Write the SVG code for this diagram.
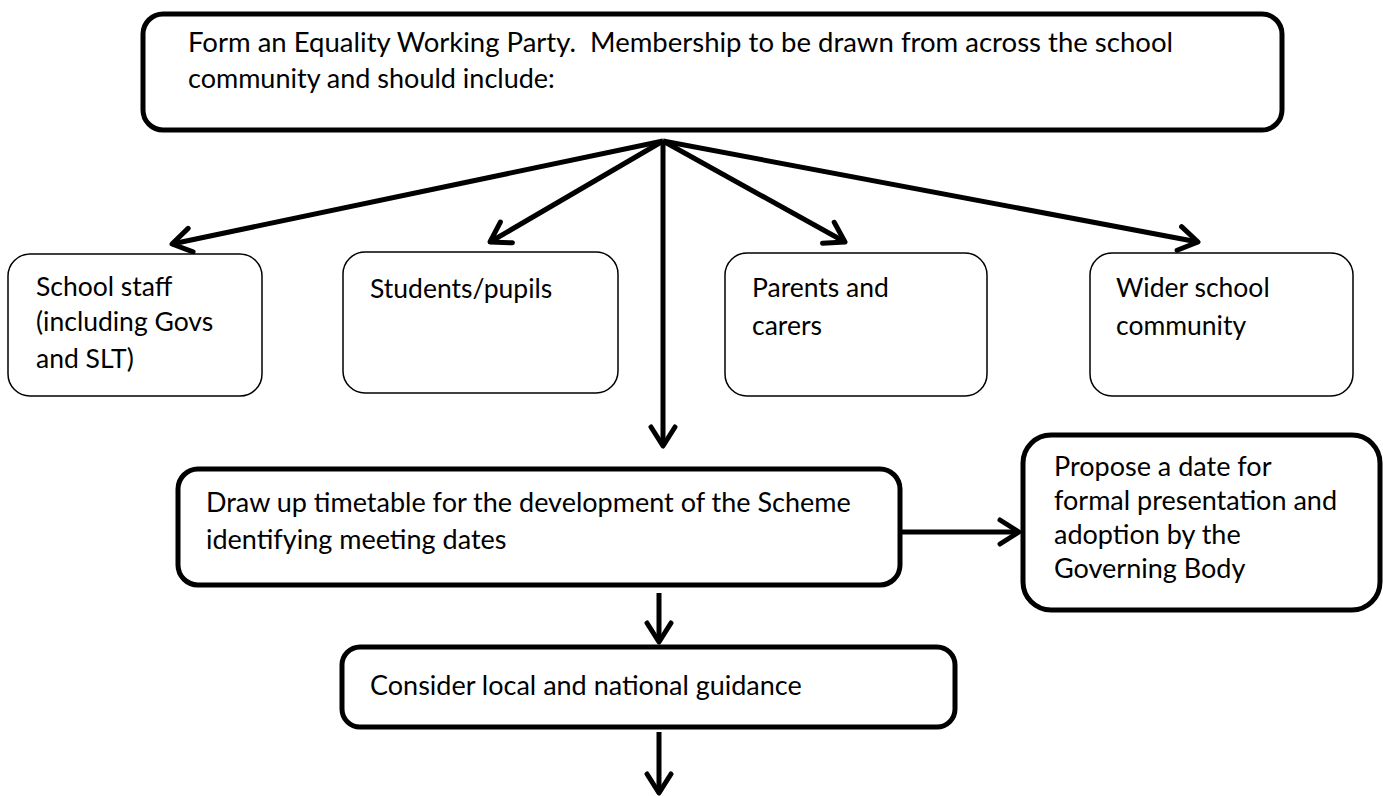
<svg xmlns="http://www.w3.org/2000/svg" width="1383" height="796" viewBox="0 0 1383 796">
<style>
.thick{fill:#fff;stroke:#000;stroke-width:5}
.thin{fill:#fff;stroke:#000;stroke-width:1.5}
text{font-family:Lato,"Liberation Sans",sans-serif;fill:#000;font-size:27px;white-space:pre}
.sm{font-size:26.5px}
.conn line{stroke:#000;stroke-width:5;marker-end:url(#arr)}
</style>
<defs>
<marker id="arr" viewBox="0 0 26 30" refX="22" refY="15" markerWidth="26" markerHeight="30" markerUnits="userSpaceOnUse" orient="auto">
<path d="M3,3 L22,15 L3,27" fill="none" stroke="#000" stroke-width="5" stroke-linecap="round" stroke-linejoin="round"/>
</marker>
</defs>
<rect width="1383" height="796" fill="#fff"/>
<g class="conn">
<line x1="663" y1="141" x2="172" y2="244"/>
<line x1="663" y1="141" x2="490" y2="242"/>
<line x1="663" y1="141" x2="663" y2="446"/>
<line x1="663" y1="141" x2="845" y2="242"/>
<line x1="663" y1="141" x2="1198" y2="242"/>
<line x1="900" y1="532" x2="1019" y2="532"/>
<line x1="659" y1="593" x2="659" y2="642"/>
<line x1="659" y1="732" x2="659" y2="793"/>
</g>
<g id="form">
<rect class="thick" x="143" y="14" width="1139" height="116" rx="20"/>
<text x="188" y="52" textLength="985" lengthAdjust="spacingAndGlyphs">Form an Equality Working Party.  Membership to be drawn from across the school</text>
<text x="188" y="88">community and should include:</text>
</g>
<g id="staff">
<rect class="thin" x="8" y="254" width="254" height="142" rx="22"/>
<text class="sm" x="36" y="296">School staff</text>
<text class="sm" x="36" y="331">(including Govs</text>
<text class="sm" x="36" y="368">and SLT)</text>
</g>
<g id="students">
<rect class="thin" x="343" y="252" width="275" height="141" rx="22"/>
<text class="sm" x="370" y="298">Students/pupils</text>
</g>
<g id="parents">
<rect class="thin" x="725" y="253" width="262" height="143" rx="22"/>
<text class="sm" x="752" y="297">Parents and</text>
<text class="sm" x="752" y="335">carers</text>
</g>
<g id="wider">
<rect class="thin" x="1090" y="253" width="263" height="143" rx="22"/>
<text class="sm" x="1116" y="297">Wider school</text>
<text class="sm" x="1116" y="335">community</text>
</g>
<g id="timetable">
<rect class="thick" x="178" y="469" width="722" height="116" rx="20"/>
<text x="206" y="512">Draw up timetable for the development of the Scheme</text>
<text x="206" y="549">identifying meeting dates</text>
</g>
<g id="propose">
<rect class="thick" x="1023" y="435" width="357" height="175" rx="28"/>
<text x="1054" y="476">Propose a date for</text>
<text x="1054" y="510">formal presentation and</text>
<text x="1054" y="544">adoption by the</text>
<text x="1054" y="578">Governing Body</text>
</g>
<g id="consider">
<rect class="thick" x="342" y="647" width="613" height="80" rx="18"/>
<text x="370" y="695">Consider local and national guidance</text>
</g>
</svg>
